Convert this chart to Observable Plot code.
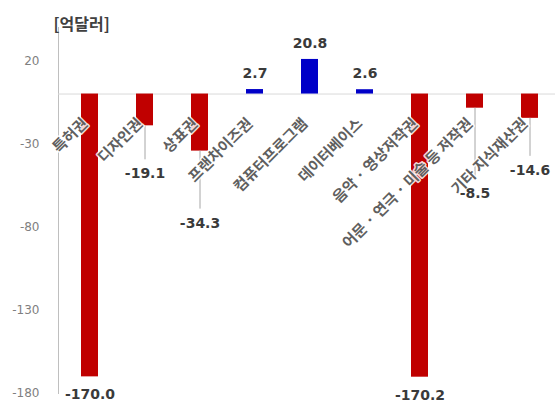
<!DOCTYPE html>
<html>
<head>
<meta charset="utf-8">
<script src="https://cdn.jsdelivr.net/npm/d3@7"></script>
<script src="https://cdn.jsdelivr.net/npm/@observablehq/plot@0.6"></script>
<style>
  html, body { margin: 0; padding: 0; background: #fff; }
  #chart svg { display: block; }
  g[aria-label="category"] text { letter-spacing: 2.5px; }
  g[aria-label="unit"] text { letter-spacing: 2.5px; }
</style>
</head>
<body>
<div id="chart"></div>
<script>
// 지식재산권 무역수지 (억달러)
const categories = [
  "특허권",
  "디자인권",
  "상표권",
  "프랜차이즈권",
  "컴퓨터프로그램",
  "데이터베이스",
  "음악 · 영상저작권",
  "어문 · 연극 · 미술 등 저작권",
  "기타 지식재산권"
];
const values = [-170.0, -19.1, -34.3, 2.7, 20.8, 2.6, -170.2, -8.5, -14.6];
const yTicks = [20, -30, -80, -130, -180];
const unitLabel = "[억달러]";

// how far (px) each value label sits from its bar end
const labelGap = [18, 48, 72, 16, 16, 16, 18, 85, 52];

const RED = "#c00000";
const BLUE = "#0000c8";
const FONT = "'DejaVu Sans', 'Noto Sans CJK KR', sans-serif";

const rows = categories.map((c, i) => ({cat: c, value: values[i], gap: labelGap[i]}));

// leader lines from the bar end down to the value label (only where the label is far away)
const leaders = rows
  .filter(d => d.value < 0 && d.gap > 30)
  .map(d => Plot.ruleX([d], {
    x: "cat", y1: "value", y2: "value",
    insetBottom: -(d.gap - 14),
    stroke: "#a6a6a6", strokeWidth: 1
  }));

// value labels, each at its own distance from the bar
const valueLabels = rows.map(d => Plot.text([d], {
  x: "cat", y: "value",
  text: v => v.value.toFixed(1),
  dy: d.value < 0 ? d.gap : -d.gap,
  fontSize: 14, fontWeight: "bold", fill: "#3a3a3a",
  fontFamily: FONT
}));

const chart = Plot.plot({
  width: 555,
  height: 407,
  marginTop: 27,
  marginBottom: 14,
  marginLeft: 58,
  marginRight: 0,
  style: {fontFamily: FONT, background: "#fff"},
  x: {domain: categories, paddingInner: 0.696, paddingOuter: 0.286, align: 0.58, axis: null},
  y: {domain: [-180, 40], ticks: yTicks, tickSize: 0, tickPadding: 19, label: null},
  marks: [
    Plot.axisY({ticks: yTicks, tickSize: 0, tickPadding: 19, label: null,
      fontSize: 12, color: "#7f7f7f", tickFormat: d => String(d)}),
    Plot.frame({anchor: "left", stroke: "#bfbfbf"}),
    Plot.ruleY([0], {stroke: "#d9d9d9"}),
    Plot.barY(rows, {x: "cat", y: "value", fill: d => d.value < 0 ? RED : BLUE}),
    ...leaders,
    Plot.text(rows, {
      x: "cat", y: 0, text: "cat",
      rotate: -45, textAnchor: "end", lineAnchor: "middle",
      dx: -5, dy: 27,
      fontSize: 15, fontWeight: "bold", fill: "#5f5f5f",
      stroke: "white", strokeWidth: 3, strokeOpacity: 0.85,
      fontFamily: "'Noto Sans CJK KR', sans-serif",
      ariaLabel: "category"
    }),
    ...valueLabels,
    Plot.text([unitLabel], {
      frameAnchor: "top-left", text: d => d,
      textAnchor: "start", dx: -5, dy: -9,
      fontSize: 16, fontWeight: "bold", fill: "#404040",
      fontFamily: "'Noto Sans CJK KR', sans-serif",
      ariaLabel: "unit"
    })
  ]
});

document.getElementById("chart").append(chart);
</script>
</body>
</html>
